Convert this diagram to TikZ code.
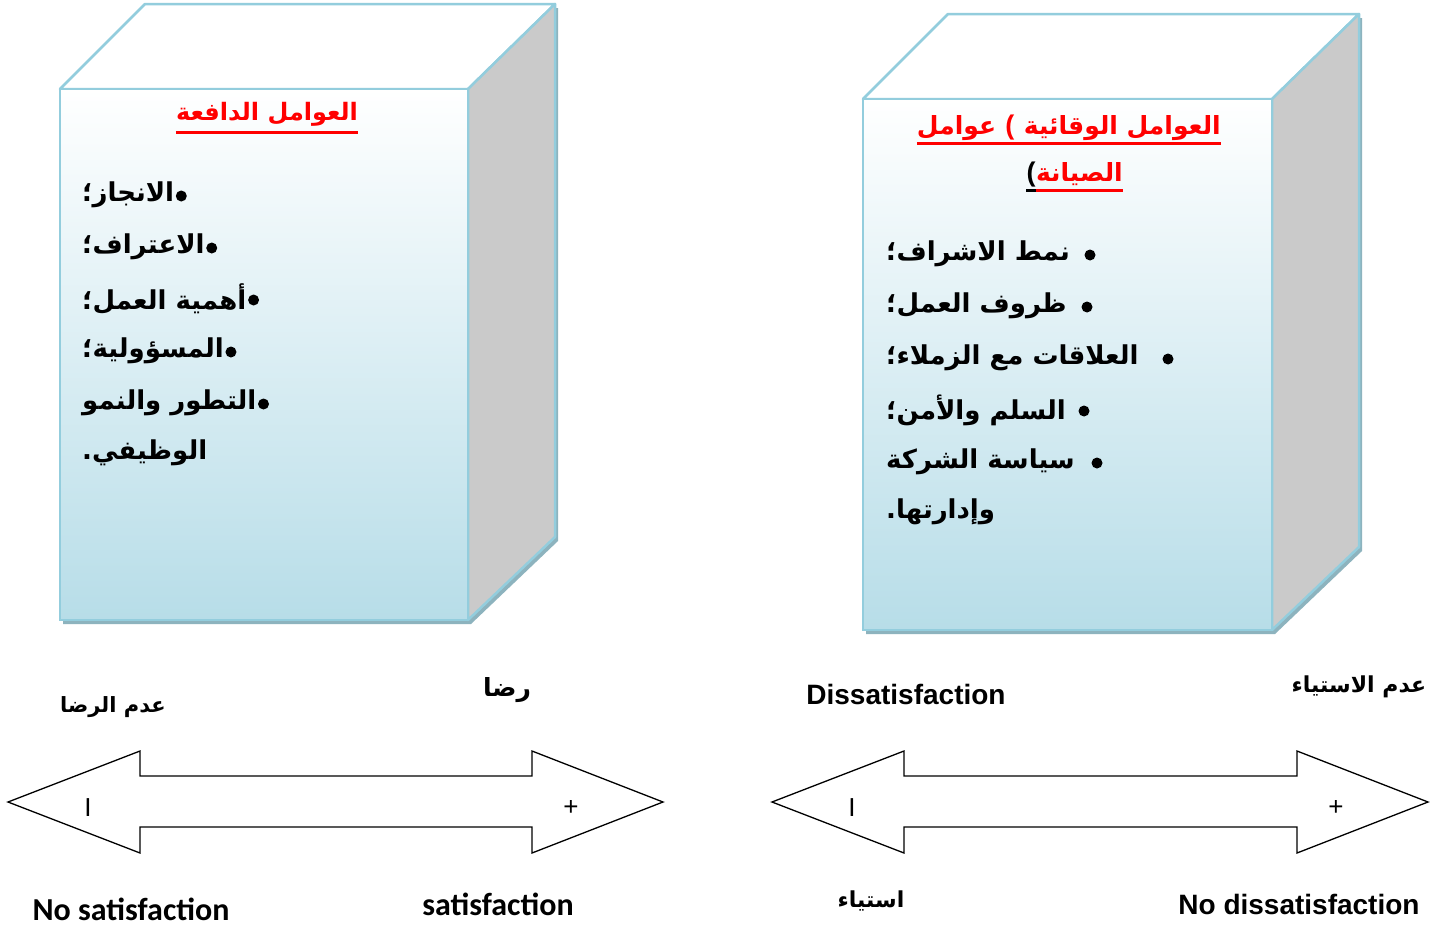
\documentclass[tikz,border=0pt]{standalone}
\usepackage{fontspec}
\setmainfont{Liberation Sans}
\newfontfamily\arabicfont[Script=Arabic]{DejaVu Sans}
\newfontfamily\calibfont{Carlito}
\TeXXeTstate=1
\usetikzlibrary{calc}
\definecolor{edgeblue}{HTML}{93CDDD}
\definecolor{faceblue}{HTML}{B7DDE8}
\definecolor{sidegray}{HTML}{CACACA}
\definecolor{shadowc}{HTML}{8DB3BE}
\newcommand\mycuboid[4]{%
  \fill[shadowc] (#1+3,#2+4) -- (#1+3+85,#2+4-85) -- (#3+3+87,#2+4-85) -- (#3+3+87,#4+4-83) -- (#3+3,#4+4) -- (#1+3,#4+4) -- cycle;
  \filldraw[fill=white, draw=edgeblue, line width=2.5pt, line join=round] (#1,#2) -- (#1+85,#2-85) -- (#3+87,#2-85) -- (#3,#2) -- cycle;
  \filldraw[fill=sidegray, draw=edgeblue, line width=2.5pt, line join=round] (#3,#2) -- (#3+87,#2-85) -- (#3+87,#4-83) -- (#3,#4) -- cycle;
  \shadedraw[top color=white, bottom color=faceblue, draw=edgeblue, line width=2.5pt] (#1,#2) rectangle (#3,#4);
}
\tikzset{
  artext/.style={font=\arabicfont\bfseries\fontsize{26}{30}\selectfont, inner sep=0pt},
  artitle/.style={font=\arabicfont\bfseries\fontsize{25}{29}\selectfont, inner sep=0pt, text=red},
  paren/.style={font=\bfseries\fontsize{27}{30}\selectfont, inner sep=0pt},
  arlabel/.style={font=\arabicfont\bfseries\fontsize{22}{26}\selectfont, inner sep=0pt},
  enlabel/.style={font=\bfseries\fontsize{28}{32}\selectfont, inner sep=0pt},
  callabel/.style={font=\calibfont\bfseries\fontsize{32}{36}\selectfont, inner sep=0pt},
  sign/.style={font=\fontsize{26}{28}\selectfont, inner sep=0pt},
  dot/.style={circle, fill=black, inner sep=0pt, minimum size=11pt},
  dblarrow/.style={draw=black, line width=1.3pt, line join=miter, fill=white},
  uline/.style={line width=3pt},
}
\begin{document}
\begin{tikzpicture}[x=1pt,y=-1pt]
\useasboundingbox (0,0) rectangle (1440,926);
\fill[white] (0,0) rectangle (1440,926);

% ---------- left box ----------
\mycuboid{60}{89}{468}{620}
\node[artitle, font=\arabicfont\bfseries\fontsize{24}{28}\selectfont, anchor=base] (lt) at (267,120) {\beginR العوامل الدافعة\endR};
\draw[red, uline] ($(lt.base west)+(0,12)$) -- ($(lt.base east)+(0,12)$);
\node[artext, anchor=west] (l1) at (82,195) {\beginR الانجاز؛\endR};
\node[artext, anchor=west] (l2) at (82,247) {\beginR الاعتراف؛\endR};
\node[artext, anchor=west] (l3) at (82,299) {\beginR أهمية العمل؛\endR};
\node[artext, anchor=west] (l4) at (82,351) {\beginR المسؤولية؛\endR};
\node[artext, anchor=west] (l5) at (82,403) {\beginR التطور والنمو\endR};
\node[artext, anchor=west] (l6) at (82,453) {\beginR الوظيفي.\endR};
\node[dot] (ld1) at ($(l1.east)+(7,1)$) {};
\node[dot] (ld2) at ($(l2.east)+(7,1)$) {};
\node[dot] (ld3) at ($(l3.east)+(7,1)$) {};
\node[dot] (ld4) at ($(l4.east)+(7,1)$) {};
\node[dot] (ld5) at ($(l5.east)+(7,1)$) {};

% ---------- right box ----------
\mycuboid{863}{99}{1272}{630}
\node[artitle, anchor=base east] (rt1a) at (1221,134) {\beginR العوامل الوقائية\endR};
\node[paren, text=red, anchor=base east] (rt1p) at ($(rt1a.base west)+(-9,0)$) {(};
\node[artitle, anchor=base east] (rt1b) at ($(rt1p.base west)+(-9,0)$) {\beginR عوامل\endR};
\draw[red, uline] ($(rt1b.base west)+(0,9)$) -- ($(rt1a.base east)+(0,9)$);
\node[artitle, anchor=base east] (rt2) at (1123,181) {\beginR الصيانة\endR};
\node[paren, text=black, anchor=base east] (rp) at (rt2.base west) {(};
\draw[red, uline] ($(rt2.base west)+(0,9)$) -- ($(rt2.base east)+(0,9)$);
\draw[black, uline] ($(rp.base west)+(0,9)$) -- ($(rt2.base west)+(0,9)$);

\node[artext, anchor=west] (r1) at (886,254) {\beginR نمط الاشراف؛\endR};
\node[artext, anchor=west] (r2) at (886,306) {\beginR ظروف العمل؛\endR};
\node[artext, anchor=west] (r3) at (886,358) {\beginR العلاقات مع الزملاء؛\endR};
\node[artext, anchor=west] (r4) at (886,410) {\beginR السلم والأمن؛\endR};
\node[artext, anchor=west] (r5) at (886,462) {\beginR سياسة الشركة\endR};
\node[artext, anchor=west] (r6) at (886,512) {\beginR وإدارتها.\endR};
\node[dot] (b1) at (1090,255) {};
\node[dot] (b2) at (1087,307) {};
\node[dot] (b3) at (1168,359) {};
\node[dot] (b4) at (1084,411) {};
\node[dot] (b5) at (1097,463) {};

% ---------- left scale ----------
\node[arlabel, font=\arabicfont\bfseries\fontsize{21}{25}\selectfont] (ln) at (113,707) {\beginR عدم الرضا\endR};
\node[arlabel, font=\arabicfont\bfseries\fontsize{25}{28}\selectfont] (lp) at (507,690) {\beginR رضا\endR};
\draw[dblarrow] (8,802) -- (140,751) -- (140,776) -- (532,776) -- (532,751) -- (663,802) -- (532,853) -- (532,827) -- (140,827) -- (140,853) -- cycle;
\node[sign] (lm) at (88,808) {I};
\node[sign] (lpl) at (571,808) {+};
\node[callabel] (lns) at (131,909) {No satisfaction};
\node[callabel] (ls) at (498,904) {satisfaction};

% ---------- right scale ----------
\node[enlabel] (rd) at (906,694) {Dissatisfaction};
\node[arlabel] (rn) at (1359,687) {\beginR عدم الاستياء\endR};
\draw[dblarrow] (772,802) -- (904,751) -- (904,776) -- (1297,776) -- (1297,751) -- (1428,802) -- (1297,853) -- (1297,827) -- (904,827) -- (904,853) -- cycle;
\node[sign] (rm) at (852,808) {I};
\node[sign] (rpl) at (1336,808) {+};
\node[arlabel] (ra) at (871,901) {\beginR استياء\endR};
\node[enlabel] (rnd) at (1299,904) {No dissatisfaction};
\end{tikzpicture}
\end{document}
